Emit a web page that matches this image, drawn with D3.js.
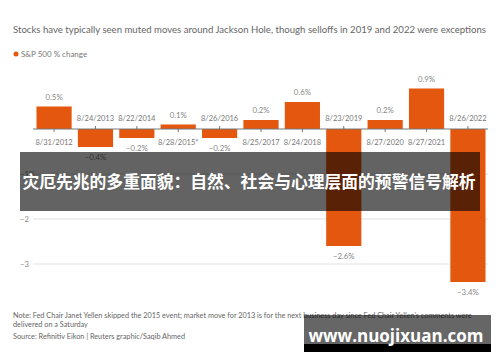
<!DOCTYPE html>
<html lang="en">
<head>
  <meta charset="UTF-8">
  <title>Jackson Hole S&amp;P 500 moves</title>
  <script src="https://d3js.org/d3.v7.min.js"></script>
  <style>
    body { margin: 0; background: #fff; }
    svg { display: block; font-family: Lato, "Open Sans", sans-serif; }
  </style>
</head>
<body>
  <div id="chart"></div>

  <script>
    // Data
    const dates = ['8/31/2012', '8/24/2013', '8/22/2014', '8/28/2015*', '8/26/2016', '8/25/2017',
                   '8/24/2018', '8/23/2019', '8/27/2020', '8/27/2021', '8/26/2022'];
    const changes = [0.5, -0.4, -0.2, 0.1, -0.2, 0.2, 0.6, -2.6, 0.2, 0.9, -3.4];
    const gridValues = [-1, -2, -3];
    const gridLabels = ['\u22121%', '\u22122', '\u22123'];

    const title = 'Stocks have typically seen muted moves around Jackson Hole, though selloffs in 2019 and 2022 were exceptions';
    const legendLabel = 'S&P 500 % change';
    const noteLines = [
      'Note: Fed Chair Janet Yellen skipped the 2015 event; market move for 2013 is for the next business day since Fed Chair Yellen\u2019s comments were',
      'delivered on a Saturday',
      'Source: Refinitiv Eikon | Reuters graphic/Saqib Ahmed'
    ];
    const bannerText = '灾厄先兆的多重面貌：自然、社会与心理层面的预警信号解析';
    const watermark = 'www.nuojixuan.com';

    const width = 500;
    const height = 362;
    const orange = '#e4570f';

    const svg = d3.select('#chart')
      .append('svg')
      .attr('width', width)
      .attr('height', height);

    // Scales
    const x = d3.scaleBand()
      .domain(dates)
      .range([34, 488])
      .paddingInner(0.15)
      .paddingOuter(0.06);

    const y = d3.scaleLinear()
      .domain([-3, 0])
      .range([264, 129]);

    // Title and legend
    svg.append('text')
      .attr('x', 13)
      .attr('y', 33)
      .attr('fill', '#666')
      .style('font-size', '9.6px')
      .text(title);

    svg.append('circle')
      .attr('cx', 16)
      .attr('cy', 54)
      .attr('r', 2.5)
      .attr('fill', orange);

    svg.append('text')
      .attr('x', 21)
      .attr('y', 57)
      .attr('fill', '#777')
      .style('font-size', '8px')
      .text(legendLabel);

    // Gridlines
    const grid = svg.append('g');
    grid.selectAll('line')
      .data(gridValues)
      .enter()
      .append('line')
      .attr('x1', 33)
      .attr('x2', 488)
      .attr('y1', d => y(d))
      .attr('y2', d => y(d))
      .attr('stroke', '#e2e2e2')
      .attr('stroke-width', 1);

    grid.selectAll('text')
      .data(gridValues)
      .enter()
      .append('text')
      .attr('x', 20)
      .attr('y', d => y(d) + 3)
      .attr('fill', '#888')
      .style('font-size', '7.6px')
      .text((d, i) => gridLabels[i]);

    // Bars
    svg.selectAll('rect.bar')
      .data(changes)
      .enter()
      .append('rect')
      .attr('class', 'bar')
      .attr('x', (d, i) => x(dates[i]))
      .attr('y', d => y(Math.max(0, d)))
      .attr('width', x.bandwidth())
      .attr('height', d => Math.abs(y(d) - y(0)))
      .attr('fill', orange);

    // Zero axis
    svg.append('line')
      .attr('x1', 33)
      .attr('x2', 488)
      .attr('y1', y(0))
      .attr('y2', y(0))
      .attr('stroke', '#777')
      .attr('stroke-width', 1);

    const cx = i => x(dates[i]) + x.bandwidth() / 2;

    // Ticks
    svg.selectAll('line.tick')
      .data(changes)
      .enter()
      .append('line')
      .attr('class', 'tick')
      .attr('x1', (d, i) => cx(i))
      .attr('x2', (d, i) => cx(i))
      .attr('y1', y(0))
      .attr('y2', d => d >= 0 ? y(0) + 3 : y(0) - 3)
      .attr('stroke', '#777');

    // Date labels (opposite side of the bar)
    svg.selectAll('text.date')
      .data(changes)
      .enter()
      .append('text')
      .attr('class', 'date')
      .attr('x', (d, i) => cx(i))
      .attr('y', d => d >= 0 ? y(0) + 16 : y(0) - 8)
      .attr('text-anchor', 'middle')
      .attr('fill', '#777')
      .style('font-size', '7.5px')
      .text((d, i) => dates[i]);

    // Value labels
    svg.selectAll('text.value')
      .data(changes)
      .enter()
      .append('text')
      .attr('class', 'value')
      .attr('x', (d, i) => cx(i))
      .attr('y', d => d >= 0 ? y(d) - 7 : y(d) + 13)
      .attr('text-anchor', 'middle')
      .attr('fill', '#888')
      .style('font-size', '7.8px')
      .text(d => (d < 0 ? '\u2212' : '') + Math.abs(d).toFixed(1) + '%');

    // Footer notes
    svg.selectAll('text.note')
      .data(noteLines)
      .enter()
      .append('text')
      .attr('class', 'note')
      .attr('x', 13)
      .attr('y', (d, i) => [318, 327, 339][i])
      .attr('fill', '#666')
      .style('font-size', '7.3px')
      .text(d => d);

    // Banner overlay
    svg.append('rect')
      .attr('x', 20)
      .attr('y', 152)
      .attr('width', 460)
      .attr('height', 59)
      .attr('fill', 'rgba(0,0,0,0.61)');

    svg.append('text')
      .attr('x', 249)
      .attr('y', 188)
      .attr('text-anchor', 'middle')
      .attr('fill', '#fff')
      .style('font-family', '"Noto Sans CJK SC", sans-serif')
      .style('font-weight', 'bold')
      .style('font-size', '16.8px')
      .text(bannerText);

    // Watermark box
    svg.append('rect')
      .attr('x', 304)
      .attr('y', 315)
      .attr('width', 187)
      .attr('height', 37)
      .attr('fill', 'rgba(0,0,0,0.6)');

    svg.append('rect')
      .attr('x', 304)
      .attr('y', 344)
      .attr('width', 187)
      .attr('height', 8)
      .attr('fill', '#000');

    svg.append('text')
      .attr('x', 396)
      .attr('y', 342)
      .attr('text-anchor', 'middle')
      .attr('fill', '#fff')
      .style('font-family', '"Open Sans", sans-serif')
      .style('font-weight', 'bold')
      .style('font-size', '17px')
      .text(watermark);
  </script>
</body>
</html>
